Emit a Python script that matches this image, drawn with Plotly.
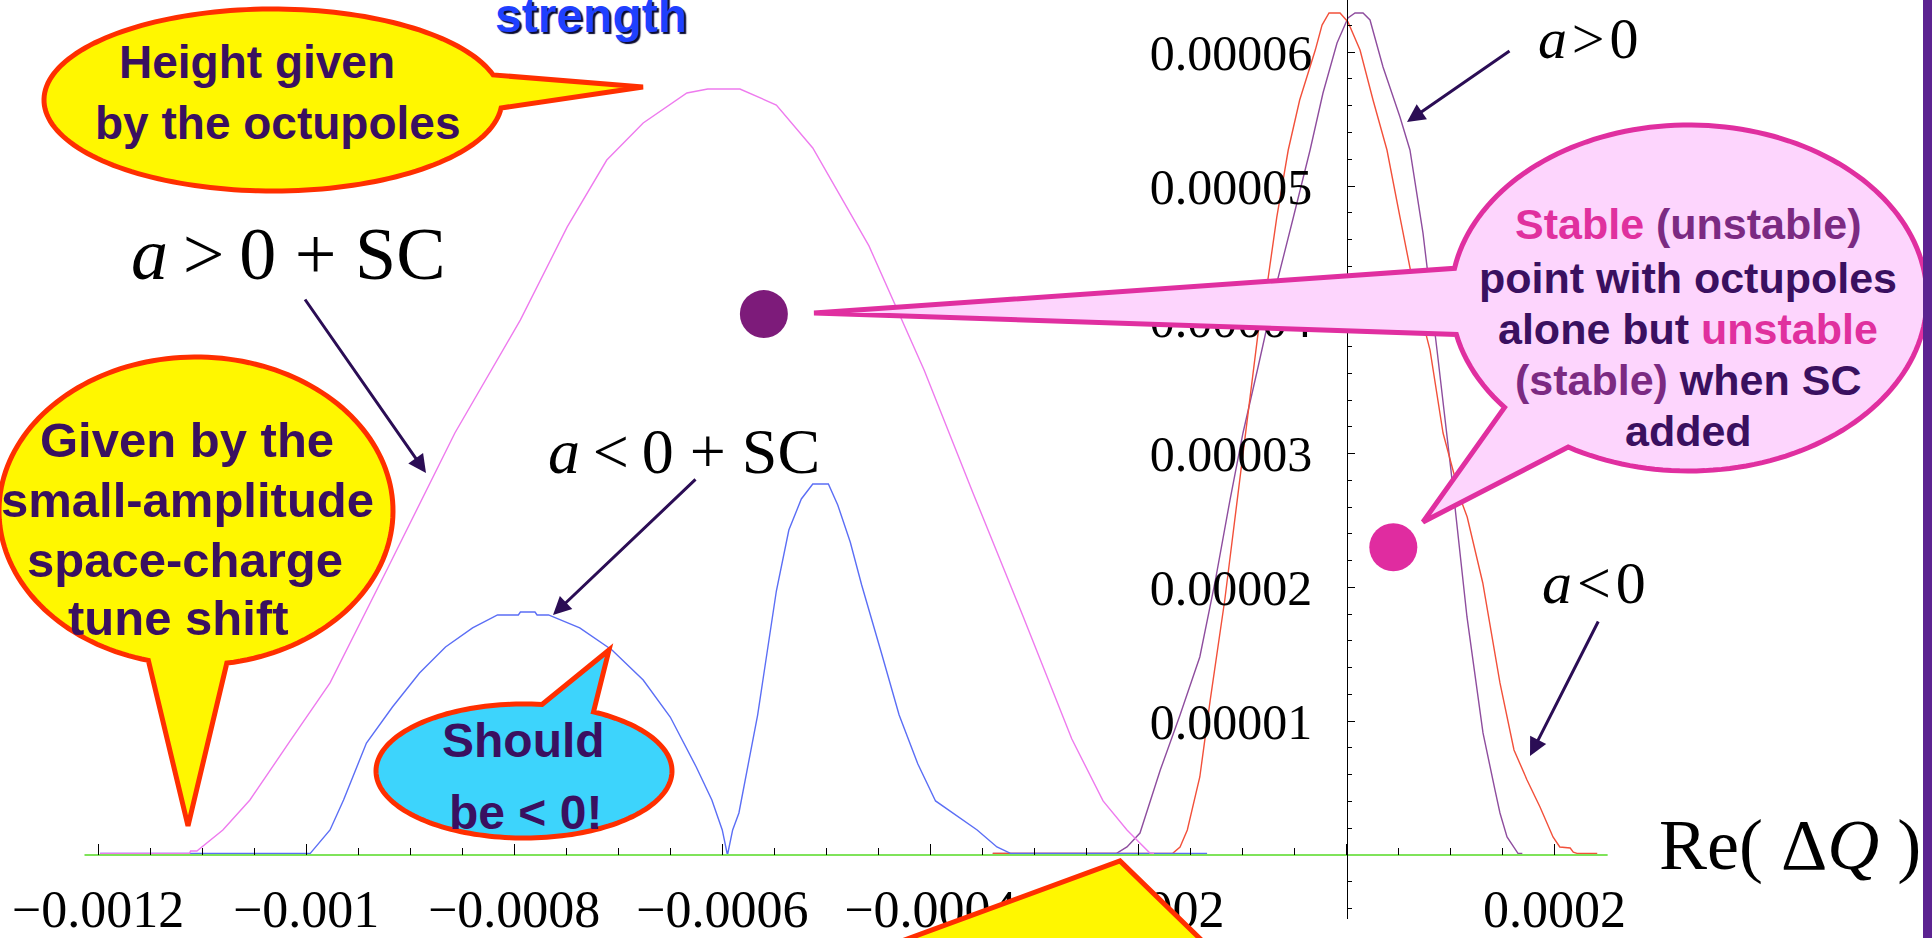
import numpy as np
import plotly.graph_objects as go

W, H = 1932, 938

# ---- data: Re(dQ) in units of 1e-4, growth/stability value in units of 1e-6 ----
# a > 0 with space charge
sc_pos_x = [-11.98, -11.12, -11.11, -11.05, -10.80, -10.54, -10.16, -9.77, -9.21, -8.76, -8.57, -7.94,
            -7.49, -7.11, -6.76, -6.34, -6.14, -5.83, -5.48, -5.13, -4.59, -4.06, -3.59, -3.11, -2.64,
            -2.34, -2.11, -1.89, -1.85]
sc_pos_y = [0.12, 0.12, 0.30, 0.30, 1.87, 4.11, 8.45, 12.86, 21.52, 28.55, 31.54, 39.99,
            46.94, 51.94, 54.71, 56.95, 57.25, 57.25, 56.05, 52.84, 45.52, 36.25, 27.06, 17.86, 8.67,
            4.04, 1.87, 0.15, 0.12]

# a < 0 with space charge
sc_neg_x = [-11.98, -9.96, -9.77, -9.64, -9.42, -9.17, -8.91, -8.66, -8.40, -8.16, -7.96, -7.94, -7.80,
            -7.78, -7.67, -7.37, -7.06, -6.76, -6.50, -6.25, -6.10, -6.00, -5.95, -5.90, -5.84, -5.66,
            -5.48, -5.36, -5.24, -5.13, -4.98, -4.89, -4.77, -4.66, -4.47, -4.30, -4.12, -3.95, -3.55,
            -3.36, -3.23, -1.34]
sc_neg_y = [0.12, 0.12, 1.87, 4.11, 8.37, 11.06, 13.60, 15.55, 16.97, 17.94, 17.94, 18.16, 18.16,
            17.94, 17.94, 16.97, 15.32, 13.08, 10.31, 6.58, 4.11, 1.87, 0.0, 1.87, 3.14, 10.46,
            19.73, 24.29, 26.61, 27.73, 27.73, 26.16, 23.39, 20.18, 15.10, 10.46, 6.80, 4.04, 1.87,
            0.60, 0.12, 0.12]

# a < 0, octupoles alone
oct_neg_x = [-3.40, -1.67, -1.60, -1.53, -1.41, -1.31, -1.17, -1.05, -0.995, -0.93, -0.85, -0.76, -0.67,
             -0.56, -0.45, -0.30, -0.235, -0.168, -0.062, 0.014, 0.13, 0.255, 0.389, 0.514, 0.639, 0.803,
             0.928, 1.10, 1.16, 1.31, 1.475, 1.61, 1.735, 1.86, 1.985, 2.05, 2.15, 2.18, 2.215, 2.41]
oct_neg_y = [0.12, 0.12, 0.60, 1.87, 5.83, 11.58, 19.06, 26.53, 30.27, 34.01, 39.01, 42.75, 47.68,
             52.69, 56.43, 60.16, 62.03, 62.93, 62.93, 62.26, 60.16, 56.43, 52.69, 47.68, 42.75, 37.74,
             31.54, 26.53, 25.26, 20.33, 12.86, 7.85, 5.61, 3.59, 1.35, 0.60, 0.52, 0.22, 0.12, 0.12]

# a > 0, octupoles alone
oct_pos_x = [-3.40, -2.21, -2.11, -1.985, -1.79, -1.60, -1.41, -1.26, -1.12, -0.995, -0.85, -0.67, -0.51,
             -0.35, -0.226, -0.091, 0.014, 0.082, 0.159, 0.226, 0.351, 0.514, 0.61, 0.735, 0.87, 1.004,
             1.158, 1.312, 1.427, 1.475, 1.543, 1.648, 1.69]
oct_pos_y = [0.12, 0.12, 0.60, 1.64, 6.35, 10.46, 14.80, 20.55, 26.53, 31.54, 36.47, 42.75, 47.68,
             52.69, 56.95, 60.69, 62.56, 62.93, 62.93, 62.41, 58.89, 55.16, 52.69, 46.49, 37.74, 28.77,
             17.79, 9.12, 4.86, 3.14, 1.35, 0.12, 0.12]

# baseline segment
base_x = [-12.13, 2.51]
base_y = [0.0, 0.0]

# highlighted working points
pt_sc_x, pt_sc_y = [-5.60], [40.43]
pt_oct_x, pt_oct_y = [0.45], [23.0]

# axis ticks
x_major = [-0.0012, -0.001, -0.0008, -0.0006, -0.0004, -0.0002, 0.0, 0.0002]
x_labels = ["\u22120.0012", "\u22120.001", "\u22120.0008", "\u22120.0006", "\u22120.0004",
            "\u22120.0002", "", "0.0002"]
y_major = [0.00001, 0.00002, 0.00003, 0.00004, 0.00005, 0.00006]
y_labels = ["0.00001", "0.00002", "0.00003", "0.00004", "0.00005", "0.00006"]

XS, YS = 1e-4, 1e-6


def sx(v):
    return [a * XS for a in v]


def sy(v):
    return [a * YS for a in v]


fig = go.Figure()
# octupole-only curves first, space-charge curves on top of them
curves = [
    (oct_pos_x, oct_pos_y, "#8e4d9e"),
    (oct_neg_x, oct_neg_y, "#f2503a"),
    (sc_neg_x, sc_neg_y, "#5b6ef5"),
    (sc_pos_x, sc_pos_y, "#ee7bee"),
]
for cx, cy, col in curves:
    fig.add_trace(go.Scatter(x=sx(cx), y=sy(cy), mode="lines",
                             line=dict(color=col, width=1.4), hoverinfo="skip"))
fig.add_trace(go.Scatter(x=sx(base_x), y=sy(base_y), mode="lines",
                         line=dict(color="#7fe35a", width=2.2), hoverinfo="skip"))
fig.add_trace(go.Scatter(x=sx(pt_sc_x), y=sy(pt_sc_y), mode="markers",
                         marker=dict(size=48, color="#7d1b7a"), hoverinfo="skip"))
fig.add_trace(go.Scatter(x=sx(pt_oct_x), y=sy(pt_oct_y), mode="markers",
                         marker=dict(size=48, color="#e02ca0"), hoverinfo="skip"))


# ---- callout geometry (pixel positions on the page) ----
def pp(px, py):
    return px / W, 1 - py / H


def bubble_path(cx, cy, rx, ry, tails, n=180):
    tails = sorted(tails)
    pts = []
    for i, (a0, a1, tip) in enumerate(tails):
        start = tails[i - 1][1] - (360 if i == 0 else 0)
        m = max(int(n * (a0 - start) / 360), 3)
        for t in np.linspace(start, a0, m):
            r = np.radians(t)
            pts.append((cx + rx * np.cos(r), cy + ry * np.sin(r)))
        pts.append(tip)
    return "M " + " L ".join("%.5f,%.5f" % pp(x, y) for x, y in pts) + " Z"


def poly_path(pts):
    return "M " + " L ".join("%.5f,%.5f" % pp(x, y) for x, y in pts) + " Z"


YELLOW, RED = "#fff700", "#ff2f00"
shapes = [
    dict(type="path", path=bubble_path(273, 100, 229, 91, [(344, 365, (643, 87))]),
         fillcolor=YELLOW, line=dict(color=RED, width=5)),
    dict(type="path", path=bubble_path(196, 511, 197, 154, [(81, 104, (188, 826))]),
         fillcolor=YELLOW, line=dict(color=RED, width=5)),
    dict(type="path", path=bubble_path(524, 771, 148, 67, [(277, 298, (609, 650))]),
         fillcolor="#3dd4fc", line=dict(color=RED, width=5)),
    dict(type="path", path=poly_path([(850, 960), (1120, 861), (1222, 960)]),
         fillcolor=YELLOW, line=dict(color=RED, width=5)),
    dict(type="path", path=bubble_path(1689, 298, 238, 173,
                                       [(120.5, 140.8, (1423, 522)), (167.8, 189.9, (814, 313))]),
         fillcolor="#fdd5fd", line=dict(color="#e02fa0", width=5)),
    dict(type="rect", x0=1923 / W, x1=1.0, y0=0, y1=1, fillcolor="#5c2391",
         line=dict(width=0)),
]
for s in shapes:
    s.update(xref="paper", yref="paper", layer="above")
fig.update_layout(shapes=shapes)

SANS = "Liberation Sans, Arial, sans-serif"
SERIF = "Liberation Serif, Times New Roman, serif"
DARK = "#3a1060"
MAG = "#e0309e"
MID = "#7b2a82"
THIN = "\u2009"
HAIR = "\u200a"

anns = []


def text(px, py, s, size, family=SANS, color=DARK, **kw):
    x, y = pp(px, py)
    d = dict(x=x, y=y, xref="paper", yref="paper", text=s, showarrow=False,
             xanchor="center", yanchor="middle", font=dict(family=family, size=size, color=color))
    d.update(kw)
    anns.append(d)


def arrow(tx, ty, hx, hy):
    x, y = pp(hx, hy)
    anns.append(dict(x=x, y=y, xref="paper", yref="paper", text="", showarrow=True,
                     ax=tx - hx, ay=ty - hy, arrowhead=2, arrowsize=1.2, arrowwidth=3,
                     arrowcolor="#2b0d55", standoff=0))


# top callout
text(257, 62, "<b>Height given</b>", 46)
text(277, 123, "<b>by the octupoles</b>", 46)
# left callout
text(187, 440, "<b>Given by the</b>", 49)
text(187, 500, "<b>small-amplitude</b>", 49)
text(185, 560, "<b>space-charge</b>", 49)
text(178, 618, "<b>tune shift</b>", 49)
# small callout
text(523, 740, "<b>Should</b>", 48)
text(525, 812, "<b>be &lt; 0!</b>", 48)
# right callout
text(1688, 224, "<b><span style='color:%s'>Stable</span> <span style='color:%s'>(unstable)</span></b>" % (MAG, MID), 43)
text(1688, 278, "<b>point with octupoles</b>", 43)
text(1688, 329, "<b>alone but <span style='color:%s'>unstable</span></b>" % MAG, 43)
text(1688, 380, "<b><span style='color:%s'>(stable)</span> when SC</b>" % MID, 43)
text(1688, 431, "<b>added</b>", 43)

# heading fragment
x0, y0 = pp(591, 15)
anns.append(dict(x=x0, y=y0, xref="paper", yref="paper", text="<b>strength</b>", showarrow=False,
                 xanchor="center", yanchor="middle",
                 font=dict(family=SANS, size=48, color="#1f40ff",
                           shadow="2px 2px 1px #0a0a30")))

# curve labels
text(288, 254, "<i>a</i>" + THIN + "&gt;" + THIN + "0 + SC", 74, SERIF, "black")
text(684, 451, "<i>a</i>" + THIN + "&lt;" + THIN + "0 + SC", 64, SERIF, "black")
text(1588, 38, "<i>a</i>" + HAIR + "&gt;" + HAIR + "0", 58, SERIF, "black")
text(1594, 583, "<i>a</i>" + HAIR + "&lt;" + HAIR + "0", 60, SERIF, "black")
text(1790, 845, "Re( \u0394<i>Q</i> )", 72, SERIF, "black")

arrow(304, 298, 426, 473)
arrow(697, 478, 553, 615)
arrow(1511, 50, 1407, 122)
arrow(1599, 620, 1530, 756)

fig.update_layout(annotations=anns)

# ---- axes ----
x_px0 = 1346.5
x_k = 104.04  # pixels per 1e-4
y_px0 = 855.0
y_k = 13.38   # pixels per 1e-6
x_range = [(0 - x_px0) / x_k * XS, (W - x_px0) / x_k * XS]
y_bottom_px = 919
y_range = [(y_px0 - y_bottom_px) / y_k * YS, y_px0 / y_k * YS]

x_minor = [k * 0.00005 for k in range(-23, 4) if k % 4 != 0]
y_minor = [k * 0.000002 for k in range(-2, 32) if k % 5 != 0]

fig.update_layout(
    width=W, height=H, autosize=False,
    margin=dict(l=0, r=0, t=0, b=0, pad=0),
    paper_bgcolor="white", plot_bgcolor="white",
    showlegend=False,
    xaxis=dict(range=x_range, domain=[0, 1], anchor="free", position=(H - y_px0) / H,
               showgrid=False, zeroline=False, showline=False,
               tickmode="array", tickvals=x_major, ticktext=x_labels,
               ticks="inside", ticklen=11, tickwidth=1.3, tickcolor="black",
               ticklabelstandoff=19,
               tickfont=dict(family=SERIF, size=52, color="black"),
               minor=dict(tickmode="array", tickvals=x_minor, ticks="inside", ticklen=7,
                          tickwidth=1.3, tickcolor="black")),
    yaxis=dict(range=y_range, domain=[(H - y_bottom_px) / H, 1], anchor="free",
               position=x_px0 / W, side="left",
               showgrid=False, zeroline=False, showline=True, linecolor="black", linewidth=1.3,
               tickmode="array", tickvals=y_major, ticktext=y_labels,
               ticks="inside", ticklen=7, tickwidth=1.3, tickcolor="black",
               ticklabelstandoff=24,
               tickfont=dict(family=SERIF, size=50, color="black"),
               minor=dict(tickmode="array", tickvals=y_minor, ticks="inside", ticklen=4,
                          tickwidth=1.3, tickcolor="black")),
)

fig.write_html("out.html")
